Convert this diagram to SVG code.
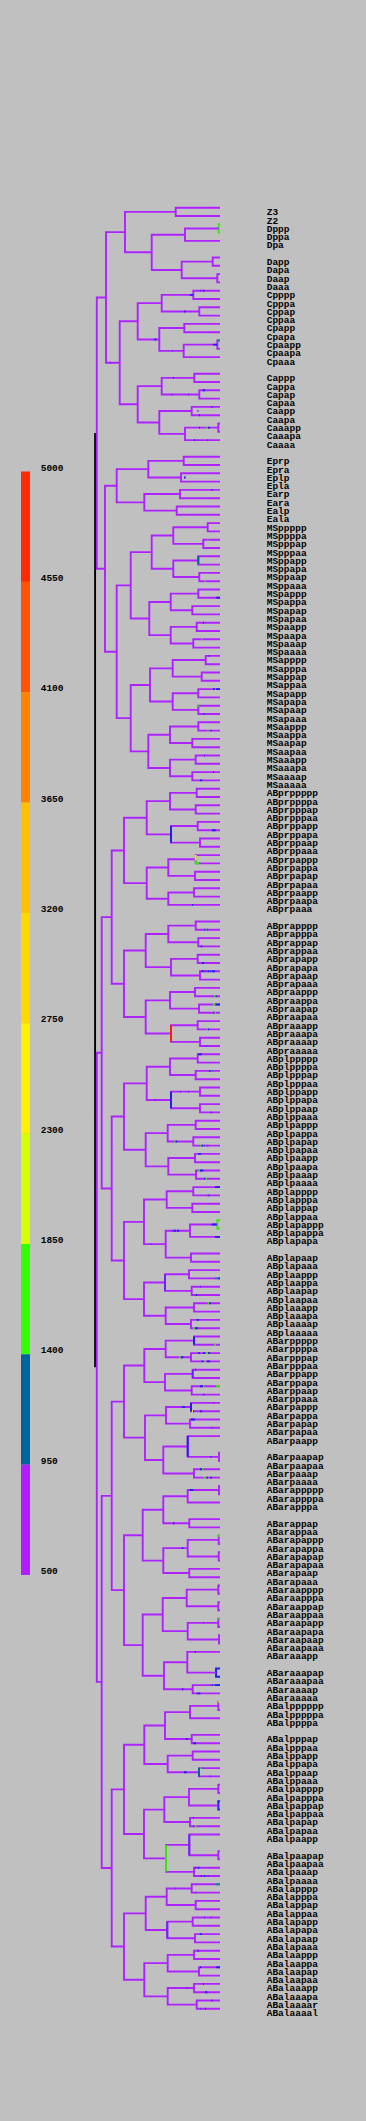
<svg xmlns="http://www.w3.org/2000/svg" width="366" height="2121" viewBox="0 0 366 2121">
<style>
#tree path,#marks path{fill:none;stroke-width:1.9;vector-effect:non-scaling-stroke}
#tree path{stroke:#AE22FF}
#tree path.k{stroke:#000}
#tree path.g,#marks .g{stroke:#33EE00}
#tree path.b,#marks .b{stroke:#1E1EF0}
#marks .s{stroke:#00669A}
#marks .v{stroke:#6A22FF}
#marks .r{stroke:#FF1A00}
#marks .y{stroke:#CCFF00}
#marks .tl{stroke:#009980}
.t text{font-family:"Liberation Mono","DejaVu Sans Mono",monospace;font-size:9.5px;font-weight:bold;fill:#000}
</style>
<rect width="366" height="2121" fill="#C0C0C0"/>
<g id="legend">
<rect x="21" y="471.5" width="9" height="110.4" fill="#FF2A00"/>
<rect x="21" y="581.9" width="9" height="110.3" fill="#FF5500"/>
<rect x="21" y="692.2" width="9" height="110.4" fill="#FF8300"/>
<rect x="21" y="802.6" width="9" height="110.3" fill="#FFC000"/>
<rect x="21" y="912.9" width="9" height="110.4" fill="#FFD800"/>
<rect x="21" y="1023.3" width="9" height="110.3" fill="#FFF000"/>
<rect x="21" y="1133.6" width="9" height="110.4" fill="#D6FF00"/>
<rect x="21" y="1244" width="9" height="110.3" fill="#33FF00"/>
<rect x="21" y="1354.3" width="9" height="110.4" fill="#00649C"/>
<rect x="21" y="1464.7" width="9" height="110.3" fill="#B01EFF"/>
<g class="t">
<text x="40.7" y="470.5">5000</text>
<text x="40.7" y="580.9">4550</text>
<text x="40.7" y="691.2">4100</text>
<text x="40.7" y="801.6">3650</text>
<text x="40.7" y="911.9">3200</text>
<text x="40.7" y="1022.3">2750</text>
<text x="40.7" y="1132.6">2300</text>
<text x="40.7" y="1243">1850</text>
<text x="40.7" y="1353.3">1400</text>
<text x="40.7" y="1463.7">950</text>
<text x="40.7" y="1574">500</text>
</g>
</g>
<g id="connectors">
<g id="tree" transform="matrix(1 0 0 8.3 0 207.7)">
<path id="c-P0" class="k" d="M95.1 27.15625V139.71875"/>
<path id="c-Z" d="M220 0H175.7V1H220"/>
<path id="c-Dpp" class="g" d="M220 2H218.7V3H220"/>
<path id="c-Dp" d="M218.7 2.5H185V4H220"/>
<path id="c-Dap" d="M220 6H212.7V7H220"/>
<path id="c-Daa" d="M220 8H217.3V9H220"/>
<path id="c-Da" d="M212.7 6.5H181.7V8.5H217.3"/>
<path id="c-D" d="M185 3.25H151.7V7.5H181.7"/>
<path id="c-B" d="M175.7 0.5H125V5.375H151.7"/>
<path id="c-Cppp" d="M220 10H193.3V11H220"/>
<path id="c-Cppa" d="M220 12H199.3V13H220"/>
<path id="c-Cpp" d="M193.3 10.5H161.7V12.5H199.3"/>
<path id="c-Cpap" d="M220 14H184.3V15H220"/>
<path id="c-Cpaap" d="M220 16H217.3V17H220"/>
<path id="c-Cpaa" d="M217.3 16.5H183.7V18H220"/>
<path id="c-Cpa" d="M184.3 14.5H159.3V17.25H183.7"/>
<path id="c-Cp" d="M161.7 11.5H137.7V15.875H159.3"/>
<path id="c-Capp" d="M220 20H194.3V21H220"/>
<path id="c-Capa" d="M220 22H199.3V23H220"/>
<path id="c-Cap" d="M194.3 20.5H161.7V22.5H199.3"/>
<path id="c-Caap" d="M220 24H191.7V25H220"/>
<path id="c-Caaap" d="M220 26H218.3V27H220"/>
<path id="c-Caaa" d="M218.3 26.5H185V28H220"/>
<path id="c-Caa" d="M191.7 24.5H159.3V27.25H185"/>
<path id="c-Ca" d="M161.7 21.5H137.7V25.875H159.3"/>
<path id="c-C" d="M137.7 13.6875H119.7V23.6875H137.7"/>
<path id="c-A" d="M125 2.9375H106V18.6875H119.7"/>
<path id="c-Epr" d="M220 30H183.7V31H220"/>
<path id="c-Epl" d="M220 32H181V33H220"/>
<path id="c-Ep" d="M183.7 30.5H148.3V32.5H181"/>
<path id="c-Ear" d="M220 34H180V35H220"/>
<path id="c-Eal" d="M220 36H176.7V37H220"/>
<path id="c-Ea" d="M180 34.5H144.3V36.5H176.7"/>
<path id="c-E" d="M148.3 31.5H116.7V35.5H144.3"/>
<path id="c-MSpppp" d="M220 38H207.7V39H220"/>
<path id="c-MSpppa" d="M220 40H203.3V41H220"/>
<path id="c-MSppp" d="M207.7 38.5H173.3V40.5H203.3"/>
<path id="c-MSppap" d="M220 42H198.3V43H220"/>
<path id="c-MSppaa" d="M220 44H199.3V45H220"/>
<path id="c-MSppa" d="M198.3 42.5H173.3V44.5H199.3"/>
<path id="c-MSpp" d="M173.3 39.5H151.7V43.5H173.3"/>
<path id="c-MSpapp" d="M220 46H198.3V47H220"/>
<path id="c-MSpapa" d="M220 48H192.3V49H220"/>
<path id="c-MSpap" d="M198.3 46.5H170.7V48.5H192.3"/>
<path id="c-MSpaap" d="M220 50H196.7V51H220"/>
<path id="c-MSpaaa" d="M220 52H193.3V53H220"/>
<path id="c-MSpaa" d="M196.7 50.5H170.7V52.5H193.3"/>
<path id="c-MSpa" d="M170.7 47.5H149.3V51.5H170.7"/>
<path id="c-MSp" d="M151.7 41.5H130.7V49.5H149.3"/>
<path id="c-MSappp" d="M220 54H205.7V55H220"/>
<path id="c-MSappa" d="M220 56H201.7V57H220"/>
<path id="c-MSapp" d="M205.7 54.5H172.7V56.5H201.7"/>
<path id="c-MSapap" d="M220 58H198.3V59H220"/>
<path id="c-MSapaa" d="M220 60H198.3V61H220"/>
<path id="c-MSapa" d="M198.3 58.5H172.7V60.5H198.3"/>
<path id="c-MSap" d="M172.7 55.5H150V59.5H172.7"/>
<path id="c-MSaapp" d="M220 62H198.3V63H220"/>
<path id="c-MSaapa" d="M220 64H192.3V65H220"/>
<path id="c-MSaap" d="M198.3 62.5H170V64.5H192.3"/>
<path id="c-MSaaap" d="M220 66H195.7V67H220"/>
<path id="c-MSaaaa" d="M220 68H192.3V69H220"/>
<path id="c-MSaaa" d="M195.7 66.5H170V68.5H192.3"/>
<path id="c-MSaa" d="M170 63.5H148.3V67.5H170"/>
<path id="c-MSa" d="M150 57.5H130.7V65.5H148.3"/>
<path id="c-MS" d="M130.7 45.5H116.7V61.5H130.7"/>
<path id="c-EMS" d="M116.7 33.5H105V53.5H116.7"/>
<path id="c-P1" d="M106 10.8125H96.8V43.5H105"/>
<path id="c-ABprpppp" d="M220 70H196.7V71H220"/>
<path id="c-ABprpppa" d="M220 72H195.7V73H220"/>
<path id="c-ABprppp" d="M196.7 70.5H170V72.5H195.7"/>
<path id="c-ABprppap" d="M220 74H197.7V75H220"/>
<path id="c-ABprppaa" d="M220 76H200V77H220"/>
<path id="c-ABprppa" d="M197.7 74.5H171V76.5H200"/>
<path id="c-ABprpp" d="M170 71.5H146.7V75.5H171"/>
<path id="c-ABprpapp" d="M220 78H195.7V79H220"/>
<path id="c-ABprpapa" d="M220 80H195V81H220"/>
<path id="c-ABprpap" d="M195.7 78.5H168.3V80.5H195"/>
<path id="c-ABprpaap" d="M220 82H194V83H220"/>
<path id="c-ABprpaa" d="M194 82.5H168.3V84H220"/>
<path id="c-ABprpa" d="M168.3 79.5H146.7V83.25H168.3"/>
<path id="c-ABprp" d="M146.7 73.5H124V81.375H146.7"/>
<path id="c-ABprappp" d="M220 86H195.7V87H220"/>
<path id="c-ABprappa" d="M220 88H198.3V89H220"/>
<path id="c-ABprapp" d="M195.7 86.5H168.3V88.5H198.3"/>
<path id="c-ABprapap" d="M220 90H197.7V91H220"/>
<path id="c-ABprapaa" d="M220 92H200V93H220"/>
<path id="c-ABprapa" d="M197.7 90.5H171V92.5H200"/>
<path id="c-ABprap" d="M168.3 87.5H145.7V91.5H171"/>
<path id="c-ABpraapp" d="M220 94H195V95H220"/>
<path id="c-ABpraapa" d="M220 96H199V97H220"/>
<path id="c-ABpraap" d="M195 94.5H170V96.5H199"/>
<path id="c-ABpraaap" d="M220 98H197.7V99H220"/>
<path id="c-ABpraaaa" d="M220 100H200V101H220"/>
<path id="c-ABpraaa" d="M197.7 98.5H171V100.5H200"/>
<path id="c-ABpraa" d="M170 95.5H145.7V99.5H171"/>
<path id="c-ABpra" d="M145.7 89.5H124V97.5H145.7"/>
<path id="c-ABpr" d="M124 77.4375H111.7V93.5H124"/>
<path id="c-ABplpppp" d="M220 102H197.7V103H220"/>
<path id="c-ABplpppa" d="M220 104H195.7V105H220"/>
<path id="c-ABplppp" d="M197.7 102.5H170V104.5H195.7"/>
<path id="c-ABplppap" d="M220 106H200V107H220"/>
<path id="c-ABplppaa" d="M220 108H200V109H220"/>
<path id="c-ABplppa" d="M200 106.5H171V108.5H200"/>
<path id="c-ABplpp" d="M170 103.5H146.7V107.5H171"/>
<path id="c-ABplpapp" d="M220 110H195.7V111H220"/>
<path id="c-ABplpapa" d="M220 112H193.3V113H220"/>
<path id="c-ABplpap" d="M195.7 110.5H167.7V112.5H193.3"/>
<path id="c-ABplpaap" d="M220 114H195V115H220"/>
<path id="c-ABplpaaa" d="M220 116H196V117H220"/>
<path id="c-ABplpaa" d="M195 114.5H168.3V116.5H196"/>
<path id="c-ABplpa" d="M167.7 111.5H145.7V115.5H168.3"/>
<path id="c-ABplp" d="M146.7 105.5H124V113.5H145.7"/>
<path id="c-ABplappp" d="M220 118H193.3V119H220"/>
<path id="c-ABplappa" d="M220 120H192.3V121H220"/>
<path id="c-ABplapp" d="M193.3 118.5H166.7V120.5H192.3"/>
<path id="c-ABplapapp" class="g" d="M220 122H217.3V123H220"/>
<path id="c-ABplapap" d="M217.3 122.5H190V124H220"/>
<path id="c-ABplapaa" d="M220 126H191V127H220"/>
<path id="c-ABplapa" d="M190 123.25H165.7V126.5H191"/>
<path id="c-ABplap" d="M166.7 119.5H144V124.875H165.7"/>
<path id="c-ABplaapp" d="M220 128H189V129H220"/>
<path id="c-ABplaapa" d="M220 130H191.7V131H220"/>
<path id="c-ABplaap" d="M189 128.5H165V130.5H191.7"/>
<path id="c-ABplaaap" d="M220 132H194V133H220"/>
<path id="c-ABplaaaa" d="M220 134H191V135H220"/>
<path id="c-ABplaaa" d="M194 132.5H165.7V134.5H191"/>
<path id="c-ABplaa" d="M165 129.5H144V133.5H165.7"/>
<path id="c-ABpla" d="M144 122.1875H124V131.5H144"/>
<path id="c-ABpl" d="M124 109.5H111.7V126.84375H124"/>
<path id="c-ABp" d="M111.7 85.46875H101.7V118.171875H111.7"/>
<path id="c-ABarpppp" d="M220 136H194V137H220"/>
<path id="c-ABarpppa" d="M220 138H191V139H220"/>
<path id="c-ABarppp" d="M194 136.5H165.7V138.5H191"/>
<path id="c-ABarppap" d="M220 140H192.7V141H220"/>
<path id="c-ABarppaa" d="M220 142H191.7V143H220"/>
<path id="c-ABarppa" d="M192.7 140.5H165V142.5H191.7"/>
<path id="c-ABarpp" d="M165.7 137.5H144.3V141.5H165"/>
<path id="c-ABarpapp" d="M220 144H191V145H220"/>
<path id="c-ABarpapa" d="M220 146H190V147H220"/>
<path id="c-ABarpap" d="M191 144.5H166V146.5H190"/>
<path id="c-ABarpaapa" d="M220 150H219V151H220"/>
<path id="c-ABarpaap" d="M220 148H187.7V150.5H219"/>
<path id="c-ABarpaaa" d="M220 152H194V153H220"/>
<path id="c-ABarpaa" d="M187.7 149.25H163.3V152.5H194"/>
<path id="c-ABarpa" d="M166 145.5H145V150.875H163.3"/>
<path id="c-ABarp" d="M144.3 139.5H124V148.1875H145"/>
<path id="c-ABarapppp" d="M220 154H219V155H220"/>
<path id="c-ABarappp" d="M219 154.5H187.7V156H220"/>
<path id="c-ABarappa" d="M220 158H189.3V159H220"/>
<path id="c-ABarapp" d="M187.7 155.25H163.3V158.5H189.3"/>
<path id="c-ABarapapp" d="M220 160H218.7V161H220"/>
<path id="c-ABarapapa" d="M220 162H218.7V163H220"/>
<path id="c-ABarapap" d="M218.7 160.5H187.7V162.5H218.7"/>
<path id="c-ABarapaa" d="M220 164H189.3V165H220"/>
<path id="c-ABarapa" d="M187.7 161.5H163.3V164.5H189.3"/>
<path id="c-ABarap" d="M163.3 156.875H142.7V163H163.3"/>
<path id="c-ABaraappp" d="M220 166H218.3V167H220"/>
<path id="c-ABaraappa" d="M220 168H218.3V169H220"/>
<path id="c-ABaraapp" d="M218.3 166.5H186.7V168.5H218.3"/>
<path id="c-ABaraapap" d="M220 170H218.3V171H220"/>
<path id="c-ABaraapaa" d="M220 172H219V173H220"/>
<path id="c-ABaraapa" d="M218.3 170.5H187.7V172.5H219"/>
<path id="c-ABaraap" d="M186.7 167.5H162.7V171.5H187.7"/>
<path id="c-ABaraaapa" class="b" d="M220 176H216V177H220"/>
<path id="c-ABaraaap" d="M220 174H187.3V176.5H216"/>
<path id="c-ABaraaaa" d="M220 178H192.7V179H220"/>
<path id="c-ABaraaa" d="M187.3 175.25H164V178.5H192.7"/>
<path id="c-ABaraa" d="M162.7 169.5H142.7V176.875H164"/>
<path id="c-ABara" d="M142.7 159.9375H124V173.1875H142.7"/>
<path id="c-ABar" d="M124 143.84375H111.7V166.5625H124"/>
<path id="c-ABalppppp" d="M220 180H218.3V181H220"/>
<path id="c-ABalpppp" d="M218.3 180.5H190V182H220"/>
<path id="c-ABalpppa" d="M220 184H191.7V185H220"/>
<path id="c-ABalppp" d="M190 181.25H165V184.5H191.7"/>
<path id="c-ABalppap" d="M220 186H192.7V187H220"/>
<path id="c-ABalppaa" d="M220 188H199V189H220"/>
<path id="c-ABalppa" d="M192.7 186.5H167.7V188.5H199"/>
<path id="c-ABalpp" d="M165 182.875H144.3V187.5H167.7"/>
<path id="c-ABalpappp" d="M220 190H218.3V191H220"/>
<path id="c-ABalpappa" class="b" d="M220 192H218.3V193H220"/>
<path id="c-ABalpapp" d="M218.3 190.5H189V192.5H218.3"/>
<path id="c-ABalpapa" d="M220 194H190V195H220"/>
<path id="c-ABalpap" d="M189 191.5H164.3V194.5H190"/>
<path id="c-ABalpaapa" d="M220 198H218.3V199H220"/>
<path id="c-ABalpaap" d="M220 196H189.3V198.5H218.3"/>
<path id="c-ABalpaaa" d="M220 200H194V201H220"/>
<path id="c-ABalpaa" d="M189.3 197.25H166V200.5H194"/>
<path id="c-ABalpa" d="M164.3 193H144V198.875H166"/>
<path id="c-ABalp" d="M144.3 185.1875H124V195.9375H144"/>
<path id="c-ABalappp" d="M220 202H191.7V203H220"/>
<path id="c-ABalappa" d="M220 204H195.7V205H220"/>
<path id="c-ABalapp" d="M191.7 202.5H166.7V204.5H195.7"/>
<path id="c-ABalapap" d="M220 206H192.7V207H220"/>
<path id="c-ABalapaa" d="M220 208H195V209H220"/>
<path id="c-ABalapa" d="M192.7 206.5H167.3V208.5H195"/>
<path id="c-ABalap" d="M166.7 203.5H145.7V207.5H167.3"/>
<path id="c-ABalaapp" d="M220 210H194V211H220"/>
<path id="c-ABalaapa" d="M220 212H199V213H220"/>
<path id="c-ABalaap" d="M194 210.5H167.7V212.5H199"/>
<path id="c-ABalaaap" d="M220 214H194V215H220"/>
<path id="c-ABalaaaa" d="M220 216H196.7V217H220"/>
<path id="c-ABalaaa" d="M194 214.5H167.7V216.5H196.7"/>
<path id="c-ABalaa" d="M167.7 211.5H144.3V215.5H167.7"/>
<path id="c-ABala" d="M145.7 205.5H124V213.5H144.3"/>
<path id="c-ABal" d="M124 190.5625H111.7V209.5H124"/>
<path id="c-ABa" d="M111.7 155.203125H101.7V200.03125H111.7"/>
<path id="c-AB" d="M101.7 101.8203125H96.8V177.6171875H101.7"/>
</g>
<g id="marks" transform="matrix(1 0 0 8.3 0 207.7)">
<path class="s" d="M198.3 42V43M199 188V189"/>
<path class="b" d="M171 74.5V76.5M171 106.5V108.5M194 136V137M191 144V145M187.7 148V150.5"/>
<path class="v" d="M165 128.5V130.5M192.7 140V141M189.3 196V198.5M167.3 206.5V208.5"/>
<path class="g" d="M195.7 78.6V79H199M166 197.25V200.5"/>
<path class="y" d="M195.7 78V78.6M192 145H193M218.3 180H220"/>
<path class="r" d="M171 98.5V100.5"/>
<path class="tl" d="M217.3 16H220M210.3 104H212.3M215 129H218M216 202H220"/>
<path class="b" d="M190 10.5H193.3M203 10H204.3M184 12.5H185.5M154.3 15.875H156.3M213 16.5H217.3M173 20.5H174M202.7 22H205M211.5 24H212.5M197.5 24.5H198.5M199 25H200M199 26.5H200M208 26.5H210M194 28H195M207.3 28H208.3M184 32.5H185.7M211.3 34H212.3M216.3 47H220M203 50H204M208.7 54H209.7M213 58H215M216 58H220M203.7 61H204.7M210.7 63H211.7M213 68H214M200 69H202.3M212 75H215.7M192 84H193M204.3 87H205.5M206.5 87H207.7M200.7 89H202.3M202 91H204M201.5 92H203.5M207.5 92H209M210 92H211M212 92H215M215.5 95H216.7M215.3 96H220M213.3 97H214.5M207.7 99H209M198.3 102H201.7M209 104H210.3M210.7 109H211.7M175.5 112.5H177M201.5 113H203M198.3 114H201M200 116H203.3M204.3 117H205.5M215 118H220M174 123.25H176M177 123.25H179M211.7 122.5H216.7M215 124H220M218 129H220M196 131H197M209 132H210.7M196.7 134H199M195 135H197.7M180.7 138.5H183.3M198 138H200M203 138H205M208 138H210M201.7 139H203.3M207 139H210M195 140H196M200 142H203M203.3 143H204.3M182.3 144.5H185M193 145H194M200 145H202M191 146H195M200 152H202M206.7 153H208M210 153H212M190 154.5H193.3M173 158.5H174.3M182 161.5H183.3M194.7 174H196M182 178.5H183.3M211.7 178H213.3M214.3 178H220M196.7 179H197.7M198.3 179H200.3M186 184.5H187.5M193.3 185H196M184 188.5H186.7M202.3 188H203.3M193 194H194M193.3 195H194.5M195 200H196M197.7 200H199.3M200.7 201H201.7M204 201H205M200 208H201.7M200 212H201M216.3 212H220M203 214H204M205 215H207.3M211.3 216H212.3M205 217H206"/>
<path class="g" d="M206.3 26.5H207.5M207.3 40H208.3M204.7 45H206M201.3 52H202.3M215 58H216M198.3 60H199.3M207.3 63H208.3M205.5 87H206.5M214 95H215.5M212.7 96H215.3M214.5 97H216M206.7 99H207.7M174.3 112.5H175.5M200 113H201M198.3 116H200M205.5 117H207M207.7 132H209M193.3 135H195M214.3 137H216M179 138.5H180.7M206 138H208M204.5 139H206M203 142H204.3M215.7 142H220M202 152H203.3M203.3 153H205.5M209 153H210M217 160H220M218.3 170H220M213.3 178H214.3M200.5 188H202.3M194.5 195H196.3"/>
<path class="v" d="M200 10H201M172 17.25H173M109.7 18.6875H110.7M171.3 22.5H172.3M188 22.5H189M197.7 28H198.3M204 66H205M204.5 92H206M206 101H207M180 106.5H181M188 106.5H189M154.7 107.5H155.7M204 113H205M207 113H208.3M207.7 119H210M172.3 123.25H174M150.3 124.875H151.3M200 130H201M213 144H214M211.7 147H212.7M210 150.5H212M203 170.5H204M209.7 189H210.7M208 201H209M174.7 202.5H175.7M195 203H196M204 206H205M210.7 206H211.7M197 210H199M186.3 214.5H187.3M200 217H201"/>
</g>
</g>
<g id="labels" class="t">
<g id="n-Z3"><text x="266.7" y="215.2">Z3</text></g>
<g id="n-Z2"><text x="266.7" y="223.5">Z2</text></g>
<g id="n-Dppp"><text x="266.7" y="231.8">Dppp</text></g>
<g id="n-Dppa"><text x="266.7" y="240.1">Dppa</text></g>
<g id="n-Dpa"><text x="266.7" y="248.4">Dpa</text></g>
<g id="n-Dapp"><text x="266.7" y="265">Dapp</text></g>
<g id="n-Dapa"><text x="266.7" y="273.3">Dapa</text></g>
<g id="n-Daap"><text x="266.7" y="281.6">Daap</text></g>
<g id="n-Daaa"><text x="266.7" y="289.9">Daaa</text></g>
<g id="n-Cpppp"><text x="266.7" y="298.2">Cpppp</text></g>
<g id="n-Cpppa"><text x="266.7" y="306.5">Cpppa</text></g>
<g id="n-Cppap"><text x="266.7" y="314.8">Cppap</text></g>
<g id="n-Cppaa"><text x="266.7" y="323.1">Cppaa</text></g>
<g id="n-Cpapp"><text x="266.7" y="331.4">Cpapp</text></g>
<g id="n-Cpapa"><text x="266.7" y="339.7">Cpapa</text></g>
<g id="n-Cpaapp"><text x="266.7" y="348">Cpaapp</text></g>
<g id="n-Cpaapa"><text x="266.7" y="356.3">Cpaapa</text></g>
<g id="n-Cpaaa"><text x="266.7" y="364.6">Cpaaa</text></g>
<g id="n-Cappp"><text x="266.7" y="381.2">Cappp</text></g>
<g id="n-Cappa"><text x="266.7" y="389.5">Cappa</text></g>
<g id="n-Capap"><text x="266.7" y="397.8">Capap</text></g>
<g id="n-Capaa"><text x="266.7" y="406.1">Capaa</text></g>
<g id="n-Caapp"><text x="266.7" y="414.4">Caapp</text></g>
<g id="n-Caapa"><text x="266.7" y="422.7">Caapa</text></g>
<g id="n-Caaapp"><text x="266.7" y="431">Caaapp</text></g>
<g id="n-Caaapa"><text x="266.7" y="439.3">Caaapa</text></g>
<g id="n-Caaaa"><text x="266.7" y="447.6">Caaaa</text></g>
<g id="n-Eprp"><text x="266.7" y="464.2">Eprp</text></g>
<g id="n-Epra"><text x="266.7" y="472.5">Epra</text></g>
<g id="n-Eplp"><text x="266.7" y="480.8">Eplp</text></g>
<g id="n-Epla"><text x="266.7" y="489.1">Epla</text></g>
<g id="n-Earp"><text x="266.7" y="497.4">Earp</text></g>
<g id="n-Eara"><text x="266.7" y="505.7">Eara</text></g>
<g id="n-Ealp"><text x="266.7" y="514">Ealp</text></g>
<g id="n-Eala"><text x="266.7" y="522.3">Eala</text></g>
<g id="n-MSppppp"><text x="266.7" y="530.6">MSppppp</text></g>
<g id="n-MSppppa"><text x="266.7" y="538.9">MSppppa</text></g>
<g id="n-MSpppap"><text x="266.7" y="547.2">MSpppap</text></g>
<g id="n-MSpppaa"><text x="266.7" y="555.5">MSpppaa</text></g>
<g id="n-MSppapp"><text x="266.7" y="563.8">MSppapp</text></g>
<g id="n-MSppapa"><text x="266.7" y="572.1">MSppapa</text></g>
<g id="n-MSppaap"><text x="266.7" y="580.4">MSppaap</text></g>
<g id="n-MSppaaa"><text x="266.7" y="588.7">MSppaaa</text></g>
<g id="n-MSpappp"><text x="266.7" y="597">MSpappp</text></g>
<g id="n-MSpappa"><text x="266.7" y="605.3">MSpappa</text></g>
<g id="n-MSpapap"><text x="266.7" y="613.6">MSpapap</text></g>
<g id="n-MSpapaa"><text x="266.7" y="621.9">MSpapaa</text></g>
<g id="n-MSpaapp"><text x="266.7" y="630.2">MSpaapp</text></g>
<g id="n-MSpaapa"><text x="266.7" y="638.5">MSpaapa</text></g>
<g id="n-MSpaaap"><text x="266.7" y="646.8">MSpaaap</text></g>
<g id="n-MSpaaaa"><text x="266.7" y="655.1">MSpaaaa</text></g>
<g id="n-MSapppp"><text x="266.7" y="663.4">MSapppp</text></g>
<g id="n-MSapppa"><text x="266.7" y="671.7">MSapppa</text></g>
<g id="n-MSappap"><text x="266.7" y="680">MSappap</text></g>
<g id="n-MSappaa"><text x="266.7" y="688.3">MSappaa</text></g>
<g id="n-MSapapp"><text x="266.7" y="696.6">MSapapp</text></g>
<g id="n-MSapapa"><text x="266.7" y="704.9">MSapapa</text></g>
<g id="n-MSapaap"><text x="266.7" y="713.2">MSapaap</text></g>
<g id="n-MSapaaa"><text x="266.7" y="721.5">MSapaaa</text></g>
<g id="n-MSaappp"><text x="266.7" y="729.8">MSaappp</text></g>
<g id="n-MSaappa"><text x="266.7" y="738.1">MSaappa</text></g>
<g id="n-MSaapap"><text x="266.7" y="746.4">MSaapap</text></g>
<g id="n-MSaapaa"><text x="266.7" y="754.7">MSaapaa</text></g>
<g id="n-MSaaapp"><text x="266.7" y="763">MSaaapp</text></g>
<g id="n-MSaaapa"><text x="266.7" y="771.3">MSaaapa</text></g>
<g id="n-MSaaaap"><text x="266.7" y="779.6">MSaaaap</text></g>
<g id="n-MSaaaaa"><text x="266.7" y="787.9">MSaaaaa</text></g>
<g id="n-ABprppppp"><text x="266.7" y="796.2">ABprppppp</text></g>
<g id="n-ABprppppa"><text x="266.7" y="804.5">ABprppppa</text></g>
<g id="n-ABprpppap"><text x="266.7" y="812.8">ABprpppap</text></g>
<g id="n-ABprpppaa"><text x="266.7" y="821.1">ABprpppaa</text></g>
<g id="n-ABprppapp"><text x="266.7" y="829.4">ABprppapp</text></g>
<g id="n-ABprppapa"><text x="266.7" y="837.7">ABprppapa</text></g>
<g id="n-ABprppaap"><text x="266.7" y="846">ABprppaap</text></g>
<g id="n-ABprppaaa"><text x="266.7" y="854.3">ABprppaaa</text></g>
<g id="n-ABprpappp"><text x="266.7" y="862.6">ABprpappp</text></g>
<g id="n-ABprpappa"><text x="266.7" y="870.9">ABprpappa</text></g>
<g id="n-ABprpapap"><text x="266.7" y="879.2">ABprpapap</text></g>
<g id="n-ABprpapaa"><text x="266.7" y="887.5">ABprpapaa</text></g>
<g id="n-ABprpaapp"><text x="266.7" y="895.8">ABprpaapp</text></g>
<g id="n-ABprpaapa"><text x="266.7" y="904.1">ABprpaapa</text></g>
<g id="n-ABprpaaa"><text x="266.7" y="912.4">ABprpaaa</text></g>
<g id="n-ABprapppp"><text x="266.7" y="929">ABprapppp</text></g>
<g id="n-ABprapppa"><text x="266.7" y="937.3">ABprapppa</text></g>
<g id="n-ABprappap"><text x="266.7" y="945.6">ABprappap</text></g>
<g id="n-ABprappaa"><text x="266.7" y="953.9">ABprappaa</text></g>
<g id="n-ABprapapp"><text x="266.7" y="962.2">ABprapapp</text></g>
<g id="n-ABprapapa"><text x="266.7" y="970.5">ABprapapa</text></g>
<g id="n-ABprapaap"><text x="266.7" y="978.8">ABprapaap</text></g>
<g id="n-ABprapaaa"><text x="266.7" y="987.1">ABprapaaa</text></g>
<g id="n-ABpraappp"><text x="266.7" y="995.4">ABpraappp</text></g>
<g id="n-ABpraappa"><text x="266.7" y="1003.7">ABpraappa</text></g>
<g id="n-ABpraapap"><text x="266.7" y="1012">ABpraapap</text></g>
<g id="n-ABpraapaa"><text x="266.7" y="1020.3">ABpraapaa</text></g>
<g id="n-ABpraaapp"><text x="266.7" y="1028.6">ABpraaapp</text></g>
<g id="n-ABpraaapa"><text x="266.7" y="1036.9">ABpraaapa</text></g>
<g id="n-ABpraaaap"><text x="266.7" y="1045.2">ABpraaaap</text></g>
<g id="n-ABpraaaaa"><text x="266.7" y="1053.5">ABpraaaaa</text></g>
<g id="n-ABplppppp"><text x="266.7" y="1061.8">ABplppppp</text></g>
<g id="n-ABplppppa"><text x="266.7" y="1070.1">ABplppppa</text></g>
<g id="n-ABplpppap"><text x="266.7" y="1078.4">ABplpppap</text></g>
<g id="n-ABplpppaa"><text x="266.7" y="1086.7">ABplpppaa</text></g>
<g id="n-ABplppapp"><text x="266.7" y="1095">ABplppapp</text></g>
<g id="n-ABplppapa"><text x="266.7" y="1103.3">ABplppapa</text></g>
<g id="n-ABplppaap"><text x="266.7" y="1111.6">ABplppaap</text></g>
<g id="n-ABplppaaa"><text x="266.7" y="1119.9">ABplppaaa</text></g>
<g id="n-ABplpappp"><text x="266.7" y="1128.2">ABplpappp</text></g>
<g id="n-ABplpappa"><text x="266.7" y="1136.5">ABplpappa</text></g>
<g id="n-ABplpapap"><text x="266.7" y="1144.8">ABplpapap</text></g>
<g id="n-ABplpapaa"><text x="266.7" y="1153.1">ABplpapaa</text></g>
<g id="n-ABplpaapp"><text x="266.7" y="1161.4">ABplpaapp</text></g>
<g id="n-ABplpaapa"><text x="266.7" y="1169.7">ABplpaapa</text></g>
<g id="n-ABplpaaap"><text x="266.7" y="1178">ABplpaaap</text></g>
<g id="n-ABplpaaaa"><text x="266.7" y="1186.3">ABplpaaaa</text></g>
<g id="n-ABplapppp"><text x="266.7" y="1194.6">ABplapppp</text></g>
<g id="n-ABplapppa"><text x="266.7" y="1202.9">ABplapppa</text></g>
<g id="n-ABplappap"><text x="266.7" y="1211.2">ABplappap</text></g>
<g id="n-ABplappaa"><text x="266.7" y="1219.5">ABplappaa</text></g>
<g id="n-ABplapappp"><text x="266.7" y="1227.8">ABplapappp</text></g>
<g id="n-ABplapappa"><text x="266.7" y="1236.1">ABplapappa</text></g>
<g id="n-ABplapapa"><text x="266.7" y="1244.4">ABplapapa</text></g>
<g id="n-ABplapaap"><text x="266.7" y="1261">ABplapaap</text></g>
<g id="n-ABplapaaa"><text x="266.7" y="1269.3">ABplapaaa</text></g>
<g id="n-ABplaappp"><text x="266.7" y="1277.6">ABplaappp</text></g>
<g id="n-ABplaappa"><text x="266.7" y="1285.9">ABplaappa</text></g>
<g id="n-ABplaapap"><text x="266.7" y="1294.2">ABplaapap</text></g>
<g id="n-ABplaapaa"><text x="266.7" y="1302.5">ABplaapaa</text></g>
<g id="n-ABplaaapp"><text x="266.7" y="1310.8">ABplaaapp</text></g>
<g id="n-ABplaaapa"><text x="266.7" y="1319.1">ABplaaapa</text></g>
<g id="n-ABplaaaap"><text x="266.7" y="1327.4">ABplaaaap</text></g>
<g id="n-ABplaaaaa"><text x="266.7" y="1335.7">ABplaaaaa</text></g>
<g id="n-ABarppppp"><text x="266.7" y="1344">ABarppppp</text></g>
<g id="n-ABarppppa"><text x="266.7" y="1352.3">ABarppppa</text></g>
<g id="n-ABarpppap"><text x="266.7" y="1360.6">ABarpppap</text></g>
<g id="n-ABarpppaa"><text x="266.7" y="1368.9">ABarpppaa</text></g>
<g id="n-ABarppapp"><text x="266.7" y="1377.2">ABarppapp</text></g>
<g id="n-ABarppapa"><text x="266.7" y="1385.5">ABarppapa</text></g>
<g id="n-ABarppaap"><text x="266.7" y="1393.8">ABarppaap</text></g>
<g id="n-ABarppaaa"><text x="266.7" y="1402.1">ABarppaaa</text></g>
<g id="n-ABarpappp"><text x="266.7" y="1410.4">ABarpappp</text></g>
<g id="n-ABarpappa"><text x="266.7" y="1418.7">ABarpappa</text></g>
<g id="n-ABarpapap"><text x="266.7" y="1427">ABarpapap</text></g>
<g id="n-ABarpapaa"><text x="266.7" y="1435.3">ABarpapaa</text></g>
<g id="n-ABarpaapp"><text x="266.7" y="1443.6">ABarpaapp</text></g>
<g id="n-ABarpaapap"><text x="266.7" y="1460.2">ABarpaapap</text></g>
<g id="n-ABarpaapaa"><text x="266.7" y="1468.5">ABarpaapaa</text></g>
<g id="n-ABarpaaap"><text x="266.7" y="1476.8">ABarpaaap</text></g>
<g id="n-ABarpaaaa"><text x="266.7" y="1485.1">ABarpaaaa</text></g>
<g id="n-ABarappppp"><text x="266.7" y="1493.4">ABarappppp</text></g>
<g id="n-ABarappppa"><text x="266.7" y="1501.7">ABarappppa</text></g>
<g id="n-ABarapppa"><text x="266.7" y="1510">ABarapppa</text></g>
<g id="n-ABarappap"><text x="266.7" y="1526.6">ABarappap</text></g>
<g id="n-ABarappaa"><text x="266.7" y="1534.9">ABarappaa</text></g>
<g id="n-ABarapappp"><text x="266.7" y="1543.2">ABarapappp</text></g>
<g id="n-ABarapappa"><text x="266.7" y="1551.5">ABarapappa</text></g>
<g id="n-ABarapapap"><text x="266.7" y="1559.8">ABarapapap</text></g>
<g id="n-ABarapapaa"><text x="266.7" y="1568.1">ABarapapaa</text></g>
<g id="n-ABarapaap"><text x="266.7" y="1576.4">ABarapaap</text></g>
<g id="n-ABarapaaa"><text x="266.7" y="1584.7">ABarapaaa</text></g>
<g id="n-ABaraapppp"><text x="266.7" y="1593">ABaraapppp</text></g>
<g id="n-ABaraapppa"><text x="266.7" y="1601.3">ABaraapppa</text></g>
<g id="n-ABaraappap"><text x="266.7" y="1609.6">ABaraappap</text></g>
<g id="n-ABaraappaa"><text x="266.7" y="1617.9">ABaraappaa</text></g>
<g id="n-ABaraapapp"><text x="266.7" y="1626.2">ABaraapapp</text></g>
<g id="n-ABaraapapa"><text x="266.7" y="1634.5">ABaraapapa</text></g>
<g id="n-ABaraapaap"><text x="266.7" y="1642.8">ABaraapaap</text></g>
<g id="n-ABaraapaaa"><text x="266.7" y="1651.1">ABaraapaaa</text></g>
<g id="n-ABaraaapp"><text x="266.7" y="1659.4">ABaraaapp</text></g>
<g id="n-ABaraaapap"><text x="266.7" y="1676">ABaraaapap</text></g>
<g id="n-ABaraaapaa"><text x="266.7" y="1684.3">ABaraaapaa</text></g>
<g id="n-ABaraaaap"><text x="266.7" y="1692.6">ABaraaaap</text></g>
<g id="n-ABaraaaaa"><text x="266.7" y="1700.9">ABaraaaaa</text></g>
<g id="n-ABalpppppp"><text x="266.7" y="1709.2">ABalpppppp</text></g>
<g id="n-ABalpppppa"><text x="266.7" y="1717.5">ABalpppppa</text></g>
<g id="n-ABalppppa"><text x="266.7" y="1725.8">ABalppppa</text></g>
<g id="n-ABalpppap"><text x="266.7" y="1742.4">ABalpppap</text></g>
<g id="n-ABalpppaa"><text x="266.7" y="1750.7">ABalpppaa</text></g>
<g id="n-ABalppapp"><text x="266.7" y="1759">ABalppapp</text></g>
<g id="n-ABalppapa"><text x="266.7" y="1767.3">ABalppapa</text></g>
<g id="n-ABalppaap"><text x="266.7" y="1775.6">ABalppaap</text></g>
<g id="n-ABalppaaa"><text x="266.7" y="1783.9">ABalppaaa</text></g>
<g id="n-ABalpapppp"><text x="266.7" y="1792.2">ABalpapppp</text></g>
<g id="n-ABalpapppa"><text x="266.7" y="1800.5">ABalpapppa</text></g>
<g id="n-ABalpappap"><text x="266.7" y="1808.8">ABalpappap</text></g>
<g id="n-ABalpappaa"><text x="266.7" y="1817.1">ABalpappaa</text></g>
<g id="n-ABalpapap"><text x="266.7" y="1825.4">ABalpapap</text></g>
<g id="n-ABalpapaa"><text x="266.7" y="1833.7">ABalpapaa</text></g>
<g id="n-ABalpaapp"><text x="266.7" y="1842">ABalpaapp</text></g>
<g id="n-ABalpaapap"><text x="266.7" y="1858.6">ABalpaapap</text></g>
<g id="n-ABalpaapaa"><text x="266.7" y="1866.9">ABalpaapaa</text></g>
<g id="n-ABalpaaap"><text x="266.7" y="1875.2">ABalpaaap</text></g>
<g id="n-ABalpaaaa"><text x="266.7" y="1883.5">ABalpaaaa</text></g>
<g id="n-ABalapppp"><text x="266.7" y="1891.8">ABalapppp</text></g>
<g id="n-ABalapppa"><text x="266.7" y="1900.1">ABalapppa</text></g>
<g id="n-ABalappap"><text x="266.7" y="1908.4">ABalappap</text></g>
<g id="n-ABalappaa"><text x="266.7" y="1916.7">ABalappaa</text></g>
<g id="n-ABalapapp"><text x="266.7" y="1925">ABalapapp</text></g>
<g id="n-ABalapapa"><text x="266.7" y="1933.3">ABalapapa</text></g>
<g id="n-ABalapaap"><text x="266.7" y="1941.6">ABalapaap</text></g>
<g id="n-ABalapaaa"><text x="266.7" y="1949.9">ABalapaaa</text></g>
<g id="n-ABalaappp"><text x="266.7" y="1958.2">ABalaappp</text></g>
<g id="n-ABalaappa"><text x="266.7" y="1966.5">ABalaappa</text></g>
<g id="n-ABalaapap"><text x="266.7" y="1974.8">ABalaapap</text></g>
<g id="n-ABalaapaa"><text x="266.7" y="1983.1">ABalaapaa</text></g>
<g id="n-ABalaaapp"><text x="266.7" y="1991.4">ABalaaapp</text></g>
<g id="n-ABalaaapa"><text x="266.7" y="1999.7">ABalaaapa</text></g>
<g id="n-ABalaaaar"><text x="266.7" y="2008">ABalaaaar</text></g>
<g id="n-ABalaaaal"><text x="266.7" y="2016.3">ABalaaaal</text></g>
</g>
</svg>
